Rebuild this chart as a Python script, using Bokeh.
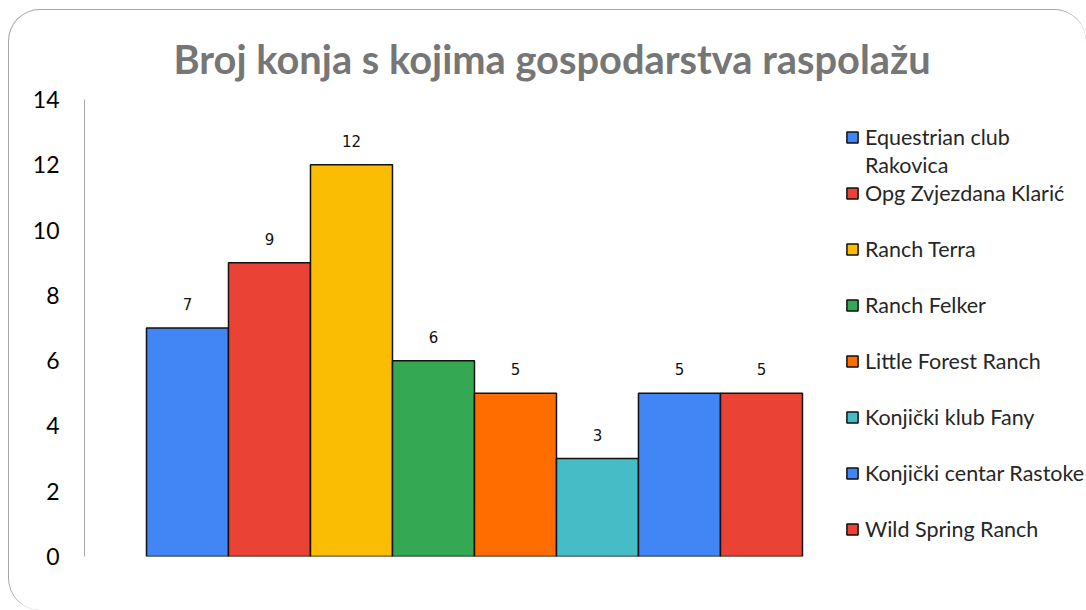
from bokeh.plotting import figure
from bokeh.models import ColumnDataSource, Range1d, Legend, LegendItem, LabelSet, Title
from bokeh.core.properties import value
from bokeh.embed import file_html
from bokeh.resources import INLINE

# ---- data ----
names = ["Equestrian club\nRakovica", "Opg Zvjezdana Klarić", "Ranch Terra", "Ranch Felker",
         "Little Forest Ranch", "Konjički klub Fany", "Konjički centar Rastoke", "Wild Spring Ranch"]
values = [7, 9, 12, 6, 5, 3, 5, 5]
colors = ["#4285F4", "#EA4335", "#FBBC04", "#34A853", "#FF6D01", "#46BDC6", "#4285F4", "#EA4335"]
y_ticks = [0, 2, 4, 6, 8, 10, 12, 14]
title_text = "Broj konja s kojima gospodarstva raspolažu"

xs = list(range(len(values)))
src = ColumnDataSource(dict(x=xs, top=values, color=colors, lab=[str(v) for v in values]))

p = figure(width=1078, height=601, output_backend="svg", toolbar_location=None,
           x_range=Range1d(-1.256, 10.976), y_range=Range1d(0, 14),
           min_border_left=75, min_border_right=0, min_border_top=89, min_border_bottom=55)
p.title = Title(text=title_text, align="left", offset=89, text_font="Lato",
                text_font_size="39.8px", text_font_style="bold", text_color="#767676", standoff=36)

p.outline_line_color = None
p.background_fill_alpha = 0
p.border_fill_alpha = 0
p.xgrid.visible = False
p.ygrid.visible = False
p.xaxis.visible = False
p.styles = {"margin-left": "8px", "margin-top": "9px", "overflow": "hidden",
            "border-left": "1px solid #a6a6a6", "border-top": "1px solid #a6a6a6",
            "border-right": "none", "border-bottom": "none",
            "border-top-left-radius": "32px", "border-top-right-radius": "32px",
            "border-bottom-left-radius": "32px"}

yax = p.yaxis[0]
yax.ticker = y_ticks
yax.axis_line_color = "#a6a6a6"
yax.axis_line_width = 1
yax.major_tick_line_color = None
yax.minor_tick_line_color = None
yax.major_label_text_font = "Lato"
yax.major_label_text_font_size = "23px"
yax.major_label_text_color = "#000000"
yax.major_label_standoff = 19

r = p.vbar(x="x", top="top", width=1.0, bottom=0, source=src,
           fill_color="color", line_color="#111111", line_width=1.5)
dummy = p.scatter(x=[], y=[], marker="square", fill_alpha=0, line_alpha=0)

labels = LabelSet(x="x", y="top", text="lab", source=src, text_align="center",
                  text_baseline="middle", y_offset=24, text_font=value("DejaVu Sans"),
                  text_font_size="15px", text_color="#111111")
p.add_layout(labels)

items = []
for i, nm in enumerate(names):
    parts = nm.split("\n")
    items.append(LegendItem(label=parts[0], renderers=[r], index=i))
    if len(parts) > 1:
        items.append(LegendItem(label=parts[1], renderers=[dummy]))
    elif i < len(names) - 1:
        items.append(LegendItem(label=" ", renderers=[dummy]))

legend = Legend(items=items, location=(761, 14), orientation="vertical",
                glyph_width=14, glyph_height=14, label_height=26, spacing=2,
                label_standoff=6, padding=10, margin=0,
                label_text_font="Lato", label_text_font_size="21.5px", label_text_color="#262626",
                border_line_color=None, background_fill_alpha=0)
p.add_layout(legend)

open("out.html", "w").write(file_html(p, INLINE))
